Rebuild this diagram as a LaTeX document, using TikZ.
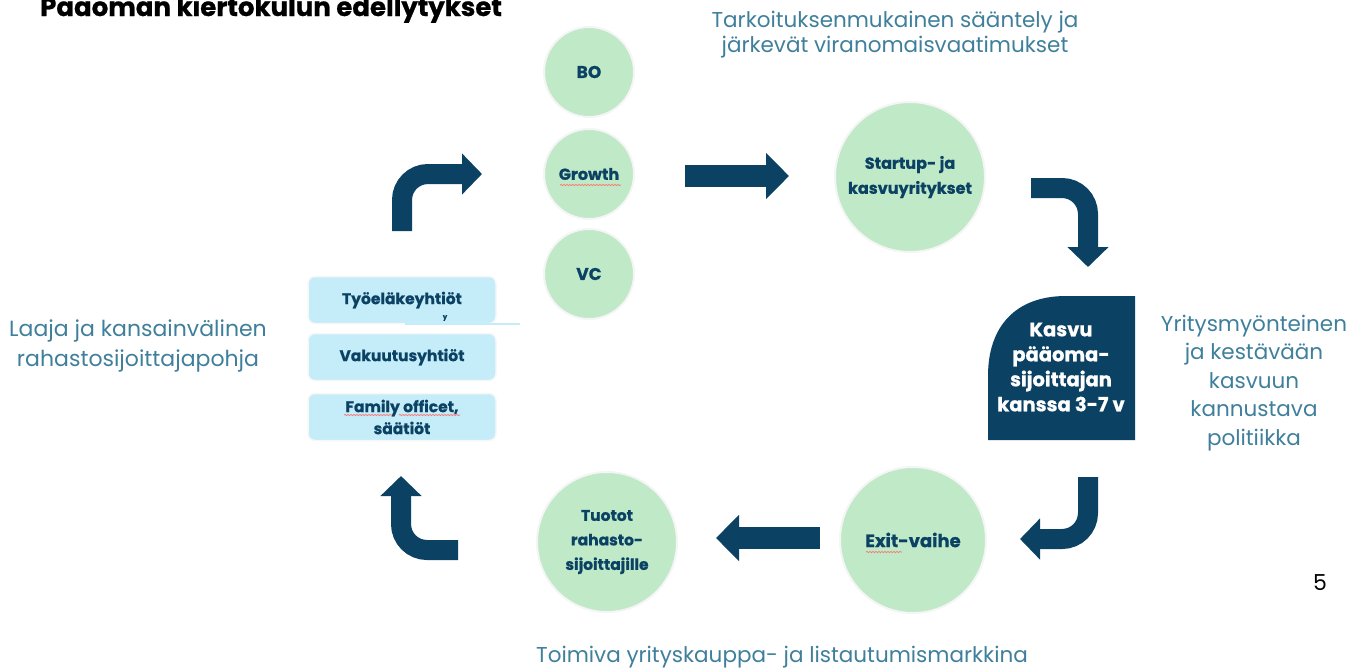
\documentclass[tikz,border=0pt]{standalone}
\usepackage{fontspec}
\setmainfont{Poppins}[BoldFeatures={FakeBold=0.8}]
\usetikzlibrary{arrows.meta,positioning,decorations.pathmorphing}
\definecolor{navy}{HTML}{0B4264}
\definecolor{mint}{HTML}{BFE9C7}
\definecolor{sky}{HTML}{C4ECF9}
\definecolor{softblue}{HTML}{3F7F9C}

\tikzset{
  bubble/.style={circle, fill=mint, draw=black!4, line width=2pt, text=navy, align=center,
    font=\bfseries\fontsize{16}{25}\selectfont},
  fundbox/.style={rectangle, rounded corners=7pt, fill=sky, draw=black!3, line width=1.5pt,
    minimum width=188pt, minimum height=47pt, text=navy, align=center,
    font=\bfseries\fontsize{15.5}{22}\selectfont},
  bigarrow/.style={draw=navy, line width=20pt, -{Triangle[length=20pt,width=40pt]}},
  remark/.style={text=softblue, align=center, font=\fontsize{21.5}{25}\selectfont},
  squiggle/.style={draw=red!55, line width=0.7pt, decorate,
    decoration={snake, amplitude=0.6pt, segment length=3pt}}
}

\begin{document}
\begin{tikzpicture}[x=1pt,y=-1pt]
\useasboundingbox (0,0) rectangle (1362,667);

\node[anchor=base west, inner sep=0pt, font=\bfseries\fontsize{26}{30}\selectfont] (title) at (40,16) {Pääoman kiertokulun edellytykset};

\node[bubble, minimum size=90pt, font=\bfseries\fontsize{17}{25}\selectfont] (bo) at (589,72) {BO};
\node[bubble, minimum size=90pt] (growth) at (589,174) {Growth};
\node[bubble, minimum size=90pt, font=\bfseries\fontsize{17}{25}\selectfont] (vc) at (589,274) {VC};
\node[bubble, minimum size=150pt] (startup) at (910,177) {Startup- ja\\kasvuyritykset};
\node[bubble, minimum size=146pt, font=\bfseries\fontsize{18}{25}\selectfont] (exit) at (913,540) {Exit-vaihe};
\node[bubble, minimum size=140pt, font=\bfseries\fontsize{15.5}{24.5}\selectfont] (returns) at (607,542) {Tuotot\\rahasto-\\sijoittajille};

\fill[navy, rounded corners=4pt] (988,440) -- (988,380) [sharp corners] .. controls (988,326) and (1016,296) .. (1066,296) -- (1135,296) -- (1135,440) -- cycle;
\node[text=white, align=center, font=\bfseries\fontsize{19.5}{25}\selectfont] (growthcap) at (1061,367) {Kasvu\\pääoma-\\sijoittajan\\kanssa 3-7 v};

\node[fundbox] (pension) at (402,300) {Työeläkeyhtiöt};
\node[fundbox] (insurance) at (402,357) {Vakuutusyhtiöt};
\node[fundbox] (family) at (402,417) {Family officet,\\säätiöt};
\draw[sky, line width=2pt] (405,324) -- (520,324);
\node[text=navy, font=\bfseries\fontsize{7}{8}\selectfont] (stray) at (445,318) {y};

\draw[squiggle] (560,185) -- (621,185);
\draw[squiggle] (344,415) -- (392,415);
\draw[squiggle] (399,415) -- (460,415);
\draw[squiggle] (866,552) -- (902,552);

\coordinate (upstart) at (402,231);
\coordinate (upend) at (482,174);
\coordinate (rightstart) at (685,176);
\coordinate (rightend) at (789,176);
\coordinate (downstart) at (1031,188);
\coordinate (downend) at (1088,267);
\coordinate (backstart) at (1088,477);
\coordinate (backend) at (1020,539);
\coordinate (leftstart) at (820,538);
\coordinate (leftend) at (716,538);
\coordinate (returnstart) at (458,550);
\coordinate (returnend) at (401,476);

\draw[bigarrow, rounded corners=26pt] (upstart) |- (upend);
\draw[bigarrow, line width=22pt, -{Triangle[length=23pt,width=45pt]}] (rightstart) -- (rightend);
\draw[bigarrow, rounded corners=26pt] (downstart) -| (downend);
\draw[bigarrow, rounded corners=26pt] (backstart) |- (backend);
\draw[bigarrow, line width=22pt, -{Triangle[length=23pt,width=45pt]}] (leftstart) -- (leftend);
\draw[bigarrow, rounded corners=26pt] (returnstart) -| (returnend);

\node[remark] (regulation) at (895,35) {Tarkoituksenmukainen sääntely ja\\järkevät viranomaisvaatimukset};
\node[remark, font=\fontsize{22}{30}\selectfont] (investorbase) at (138,346) {Laaja ja kansainvälinen\\rahastosijoittajapohja};
\node[remark, font=\fontsize{21.5}{28.5}\selectfont] (policy) at (1254,383) {Yritysmyönteinen\\ja kestävään\\kasvuun\\kannustava\\politiikka};
\node[remark, anchor=base] (market) at (782,662) {Toimiva yrityskauppa- ja listautumismarkkina};
\node[font=\fontsize{22}{24}\selectfont] (page) at (1320,583) {5};
\end{tikzpicture}
\end{document}
